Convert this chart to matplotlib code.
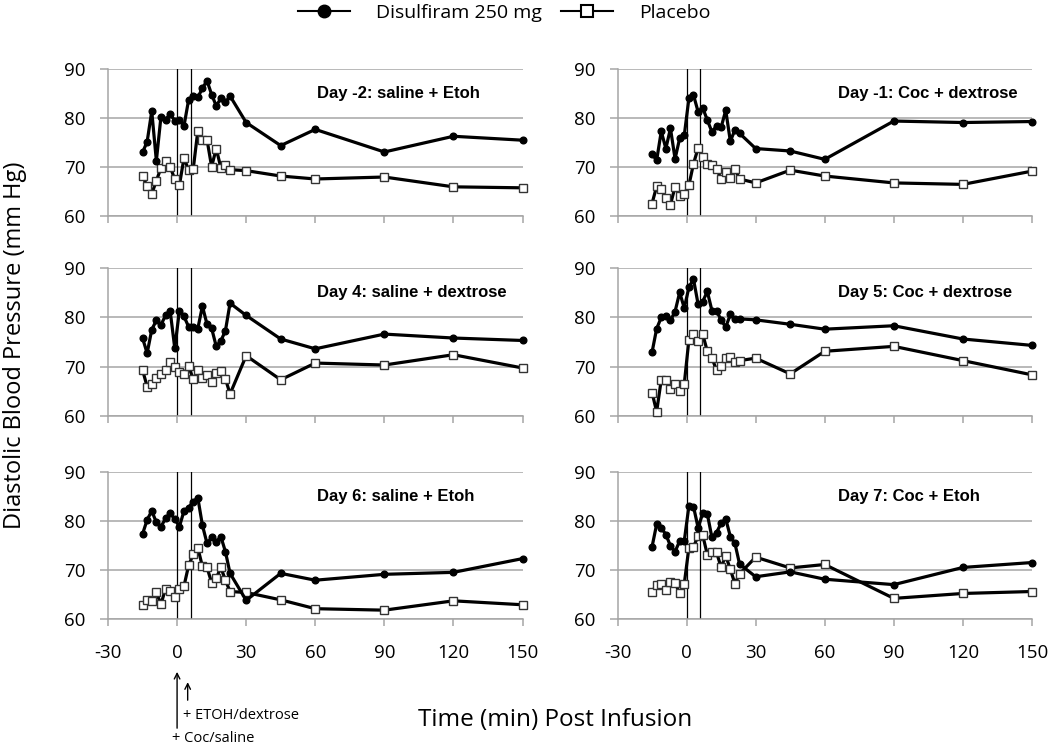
import matplotlib
matplotlib.use("Agg")
import matplotlib.pyplot as plt
from matplotlib.lines import Line2D

plt.rcParams['font.family'] = ['Open Sans', 'DejaVu Sans']
plt.rcParams['axes.unicode_minus'] = False

# sampling times (min), shared by every panel
times = [-15, -13, -11, -9, -7, -5, -3, -1, 1, 3, 5, 7, 9, 11, 13, 15, 17, 19, 21, 23,
         30, 45, 60, 90, 120, 150]

dis_day_m2 = [73.0, 75.2, 81.4, 71.3, 80.3, 79.7, 80.8, 79.5, 79.7, 78.4, 83.7, 84.5, 84.2,
              86.1, 87.6, 84.8, 82.5, 84.0, 83.2, 84.5, 79.1, 74.4, 77.7, 73.1, 76.3, 75.5]
pla_day_m2 = [68.2, 66.1, 64.6, 67.2, 69.9, 71.2, 70.1, 67.5, 66.3, 71.9, 69.4, 69.6, 77.4,
              75.5, 75.6, 70.1, 73.8, 69.9, 70.4, 69.5, 69.3, 68.2, 67.6, 68.0, 66.0, 65.8]

dis_day_m1 = [72.7, 71.4, 77.3, 73.8, 77.9, 71.7, 75.9, 76.5, 84.0, 84.7, 81.3, 82.1, 79.6,
              77.2, 78.4, 78.1, 81.6, 75.3, 77.6, 76.9, 73.8, 73.3, 71.6, 79.4, 79.1, 79.3]
pla_day_m1 = [62.6, 66.1, 65.6, 63.7, 62.4, 66.0, 64.1, 64.6, 66.3, 70.7, 73.9, 72.0, 70.6,
              70.4, 69.7, 67.6, 69.0, 67.8, 69.6, 67.6, 66.8, 69.4, 68.2, 66.8, 66.5, 69.2]

dis_day4 = [75.8, 72.7, 77.5, 79.4, 78.5, 80.4, 81.3, 73.7, 81.4, 80.2, 78.1, 78.0, 77.7,
            82.3, 78.6, 77.8, 74.1, 75.2, 77.3, 82.9, 80.4, 75.6, 73.6, 76.6, 75.8, 75.3]
pla_day4 = [69.3, 65.9, 66.5, 67.6, 68.4, 69.2, 71.0, 70.0, 68.8, 68.5, 70.1, 67.4, 69.2,
            67.6, 68.2, 66.9, 68.6, 69.0, 67.5, 64.4, 72.2, 67.3, 70.7, 70.3, 72.4, 69.7]

dis_day5 = [72.9, 77.7, 80.0, 80.3, 79.4, 81.2, 85.1, 81.9, 86.1, 87.8, 82.7, 83.2, 85.3,
            81.4, 81.3, 79.5, 78.0, 80.6, 79.6, 79.7, 79.5, 78.6, 77.6, 78.3, 75.6, 74.3]
pla_day5 = [64.7, 60.8, 67.3, 67.2, 65.4, 66.5, 65.1, 66.5, 75.4, 76.6, 75.1, 76.6, 73.1,
            71.8, 69.2, 70.1, 71.7, 72.0, 70.9, 71.2, 71.7, 68.5, 73.1, 74.1, 71.2, 68.3]

dis_day6 = [77.3, 80.2, 82.0, 79.7, 78.8, 80.5, 81.5, 80.4, 78.8, 82.0, 82.7, 83.9, 84.7,
            79.1, 75.4, 76.6, 75.7, 76.8, 73.7, 69.3, 63.8, 69.3, 67.9, 69.1, 69.5, 72.3]
pla_day6 = [62.8, 63.9, 63.7, 65.4, 63.0, 66.2, 65.8, 64.4, 66.2, 66.7, 70.9, 73.2, 74.5,
            70.7, 70.5, 67.4, 68.3, 70.5, 67.9, 65.6, 65.4, 63.9, 62.1, 61.8, 63.7, 62.9]

dis_day7 = [74.7, 79.3, 78.6, 77.2, 74.9, 73.7, 75.9, 75.9, 83.0, 82.9, 78.6, 81.5, 81.4,
            76.6, 77.6, 79.5, 80.4, 76.8, 75.4, 71.2, 68.6, 69.6, 68.1, 67.0, 70.5, 71.5]
pla_day7 = [65.6, 66.9, 67.2, 65.9, 67.6, 67.4, 65.2, 67.2, 74.5, 74.7, 76.9, 77.1, 73.1,
            73.7, 73.6, 70.5, 72.9, 70.1, 67.2, 69.2, 72.6, 70.4, 71.1, 64.2, 65.2, 65.6]

titles = ["Day -2: saline + Etoh", "Day -1: Coc + dextrose",
          "Day 4: saline + dextrose", "Day 5: Coc + dextrose",
          "Day 6: saline + Etoh", "Day 7: Coc + Etoh"]
dis_series = [dis_day_m2, dis_day_m1, dis_day4, dis_day5, dis_day6, dis_day7]
pla_series = [pla_day_m2, pla_day_m1, pla_day4, pla_day5, pla_day6, pla_day7]

x_ticks = [-30, 0, 30, 60, 90, 120, 150]
y_ticks = [60, 70, 80, 90]
infusion_times = [0, 6]  # Coc/saline start, ETOH/dextrose start

grid_col = '#a6a6a6'

fig = plt.figure(figsize=(10.5, 7.46), dpi=100)

W, H = 1050.0, 746.0
col_left = [108, 617.5]
col_width = 414.5
row_top = [69, 268.3, 471.7]
row_height = 147.3
label_x = [0.505, 0.531]

axes = []
for i in range(6):
    r, c = divmod(i, 2)
    ax = fig.add_axes([col_left[c] / W, 1 - (row_top[r] + row_height) / H,
                       col_width / W, row_height / H])
    axes.append(ax)

    ax.plot(times, pla_series[i], color='black', lw=2.3, marker='s', ms=6.3,
            mfc='white', mec='#333333', mew=1.0, zorder=3, clip_on=False)
    ax.plot(times, dis_series[i], color='black', lw=2.3, marker='o', ms=4.8,
            zorder=4, clip_on=False)
    for t in infusion_times:
        ax.axvline(t, color='black', lw=0.9, zorder=2)

    ax.set_xlim(-30, 150)
    ax.set_ylim(60, 90)
    ax.set_xticks(x_ticks)
    ax.set_yticks(y_ticks)
    ax.yaxis.grid(True, color=grid_col, lw=1.1)
    ax.set_axisbelow(True)
    for s in ['top', 'right']:
        ax.spines[s].set_visible(False)
    for s in ['left', 'bottom']:
        ax.spines[s].set_color(grid_col)
        ax.spines[s].set_linewidth(1.1)
    ax.tick_params(axis='both', colors=grid_col, width=1.1, labelcolor='black',
                   labelsize=13.5)
    ax.tick_params(axis='y', length=6, pad=10)
    ax.tick_params(axis='x', length=5, pad=13)
    if r < 2:
        ax.set_xticklabels([])

    ax.text(label_x[c], 0.835, titles[i], transform=ax.transAxes,
            family=['Liberation Sans', 'DejaVu Sans'], fontweight='bold',
            fontsize=12, ha='left', va='center')

# infusion arrows under the bottom-left panel
ax = axes[4]
tr = ax.get_xaxis_transform()
ax.annotate('', xy=(0, -0.34), xytext=(0, -0.76), xycoords=tr, textcoords=tr,
            arrowprops=dict(arrowstyle='->', color='black', lw=1.0))
ax.annotate('', xy=(4.6, -0.41), xytext=(4.6, -0.57), xycoords=tr, textcoords=tr,
            arrowprops=dict(arrowstyle='->', color='black', lw=1.0))
ax.text(2.6, -0.657, '+ ETOH/dextrose', transform=tr, fontsize=10.5,
        ha='left', va='center')
ax.text(-2.2, -0.81, '+ Coc/saline', transform=tr, fontsize=10.5,
        ha='left', va='center')

fig.text(555 / W, 1 - 720 / H, 'Time (min) Post Infusion', fontsize=17.5,
         ha='center', va='center')
fig.text(15 / W, 1 - 345 / H, 'Diastolic Blood Pressure (mm Hg)', fontsize=17,
         rotation=90, ha='center', va='center')

handles = [Line2D([], [], color='black', lw=1.5, marker='o', ms=9),
           Line2D([], [], color='black', lw=1.5, marker='s', ms=8, mfc='white',
                  mew=1.5)]
fig.legend(handles, ['Disulfiram 250 mg', 'Placebo'], loc='center',
           bbox_to_anchor=(0.48, 1 - 13 / H), ncol=2, frameon=False,
           fontsize=14, handlelength=2.7, handletextpad=1.3, columnspacing=1.0,
           borderpad=0)

fig.savefig('out.png', dpi=100)
